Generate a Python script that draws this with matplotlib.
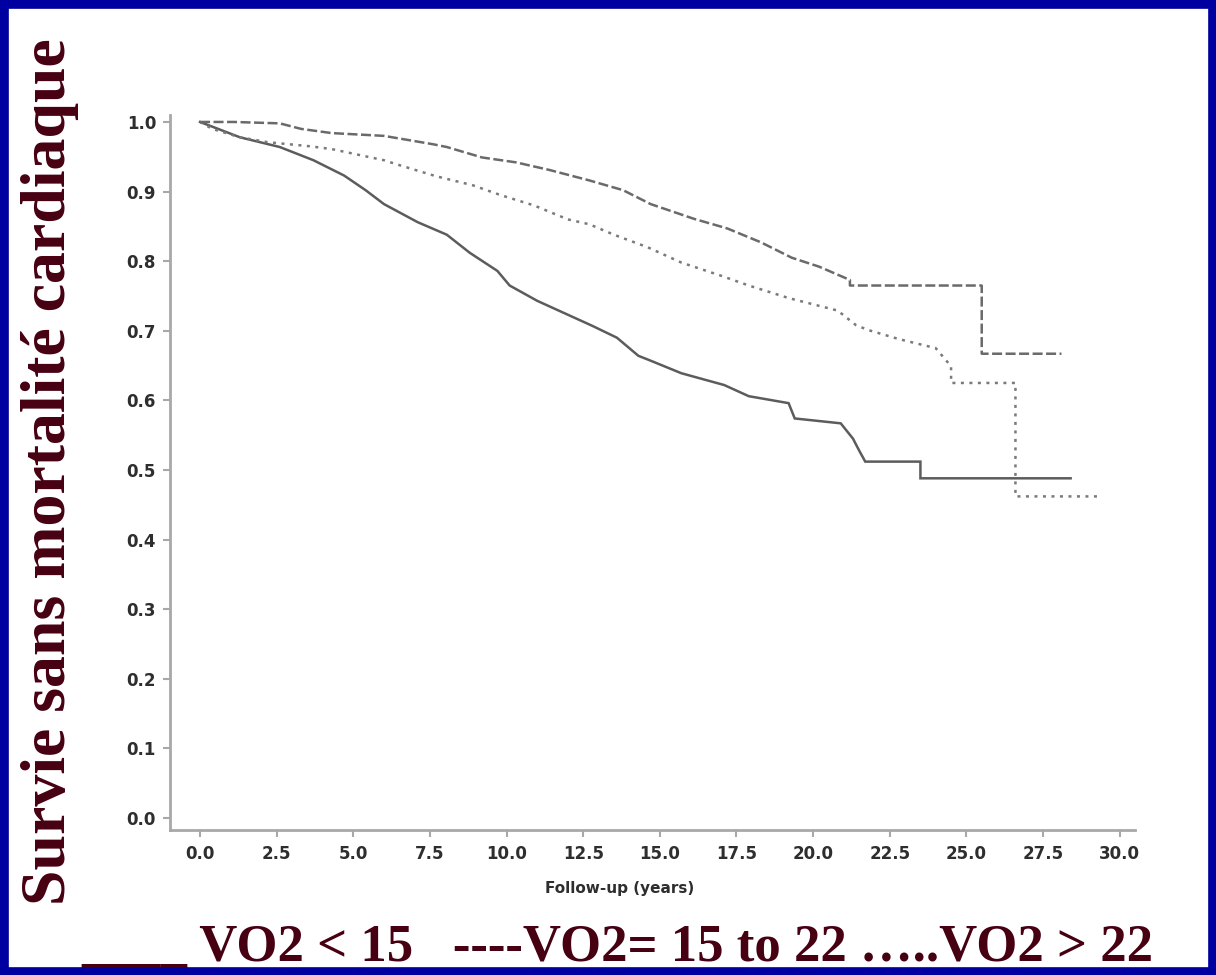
import matplotlib
matplotlib.use("Agg")
import matplotlib.pyplot as plt
from matplotlib.patches import Rectangle
from matplotlib import font_manager

# Kaplan-Meier style survival curves (follow-up in years, survival fraction)
t_low = [0, 1.3, 2.6, 3.7, 4.7, 5.4, 6.0, 7.1, 8.05, 8.8, 9.7, 10.1, 11.0, 12.0, 12.8,
         13.6, 14.3, 14.7, 15.7, 17.1, 17.9, 19.2, 19.4, 20.9, 21.3, 21.5, 21.7, 23.5,
         23.5, 28.4]
s_low = [1.0, 0.978, 0.964, 0.945, 0.923, 0.902, 0.882, 0.856, 0.838, 0.812, 0.786, 0.765,
         0.743, 0.723, 0.707, 0.690, 0.664, 0.657, 0.639, 0.622, 0.606, 0.596, 0.574, 0.567,
         0.545, 0.528, 0.512, 0.512, 0.488, 0.488]

t_mid = [0, 0.4, 1.3, 2.2, 3.6, 4.3, 6.0, 6.5, 7.7, 8.9, 9.8, 10.9, 12.0, 12.7, 13.5, 14.6,
         15.7, 17.0, 17.9, 19.2, 20.8, 21.4, 21.8, 22.8, 24.0, 24.5, 24.5, 26.6, 26.6, 29.4]
s_mid = [1.0, 0.99, 0.978, 0.971, 0.965, 0.961, 0.945, 0.938, 0.922, 0.909, 0.895, 0.880,
         0.860, 0.853, 0.838, 0.820, 0.798, 0.779, 0.765, 0.747, 0.729, 0.708, 0.701, 0.688,
         0.675, 0.649, 0.625, 0.625, 0.462, 0.462]

t_high = [0, 1.1, 2.6, 3.3, 4.3, 6.0, 7.6, 8.05, 9.2, 10.3, 11.4, 12.7, 13.8, 14.7, 16.1,
          17.2, 18.3, 19.3, 20.2, 21.2, 21.2, 25.5, 25.5, 28.1]
s_high = [1.0, 1.0, 0.998, 0.99, 0.984, 0.98, 0.968, 0.964, 0.949, 0.942, 0.931, 0.916,
          0.902, 0.882, 0.861, 0.847, 0.827, 0.805, 0.792, 0.773, 0.765, 0.765, 0.667, 0.667]

x_ticks = [0.0, 2.5, 5.0, 7.5, 10.0, 12.5, 15.0, 17.5, 20.0, 22.5, 25.0, 27.5, 30.0]
y_ticks = [0.0, 0.1, 0.2, 0.3, 0.4, 0.5, 0.6, 0.7, 0.8, 0.9, 1.0]

y_title = "Survie sans mortalité cardiaque"
x_title = "Follow-up (years)"
groups_caption = "____ VO2 < 15   ----VO2= 15 to 22 \u2026..VO2 > 22"

installed = {f.name for f in font_manager.fontManager.ttflist}
tick_family = "Liberation Sans Narrow" if "Liberation Sans Narrow" in installed else "DejaVu Sans"
serif_family = "Liberation Serif"

W, H = 1216, 975
fig = plt.figure(figsize=(W / 100, H / 100), dpi=100, facecolor="white")

# plot area in pixel terms
left_px, right_px, top_px, bottom_px = 170, 1135, 115, 830
ax = fig.add_axes([left_px / W, 1 - bottom_px / H,
                   (right_px - left_px) / W, (bottom_px - top_px) / H])
ax.set_xlim(-0.98, 30.5)
ax.set_ylim(-0.0173, 1.01)

ax.plot(t_low, s_low, color="#5c5c5c", lw=1.8, solid_joinstyle="miter")
ax.plot(t_mid, s_mid, color="#7a7a7a", lw=1.8, linestyle=(0, (1.2, 2.2)))
ax.plot(t_high, s_high, color="#6a6a6a", lw=1.8, linestyle=(0, (4, 1.4)))

for side in ("top", "right"):
    ax.spines[side].set_visible(False)
for side in ("left", "bottom"):
    ax.spines[side].set_color("#a8a8a8")
    ax.spines[side].set_linewidth(2.0)

ax.set_xticks(x_ticks)
ax.set_xticklabels([f"{v:.1f}" for v in x_ticks])
ax.set_yticks(y_ticks)
ax.set_yticklabels([f"{v:.1f}" for v in y_ticks])
ax.tick_params(axis="both", colors="#a8a8a8", length=5, width=1.5, direction="out",
               labelcolor="#2e2e2e", labelsize=12)
ax.tick_params(axis="y", pad=5)
ax.tick_params(axis="x", pad=6)
for lab in ax.get_xticklabels() + ax.get_yticklabels():
    lab.set_family(tick_family)
    lab.set_fontweight("bold")

ax.set_xlabel(x_title, fontsize=11, family=tick_family, color="#2e2e2e",
              fontweight="bold")
ax.xaxis.set_label_coords((620 - left_px) / (right_px - left_px),
                          -(881 - bottom_px) / (bottom_px - top_px))

maroon = "#470012"
fig.text(50 / W, 1 - 472 / H, y_title, rotation=90, ha="center", va="center",
         family=serif_family, fontweight="bold", fontsize=46, color=maroon)
fig.text(617 / W, 1 - 961 / H, groups_caption, ha="center", va="baseline",
         family=serif_family, fontweight="bold", fontsize=38, color=maroon)

# blue frame around the slide
fig.patches.append(Rectangle((0, 0), 1, 1, transform=fig.transFigure, fill=False,
                             edgecolor="#0000a0", linewidth=12, zorder=10))

fig.savefig("out.png", dpi=100, facecolor="white")
